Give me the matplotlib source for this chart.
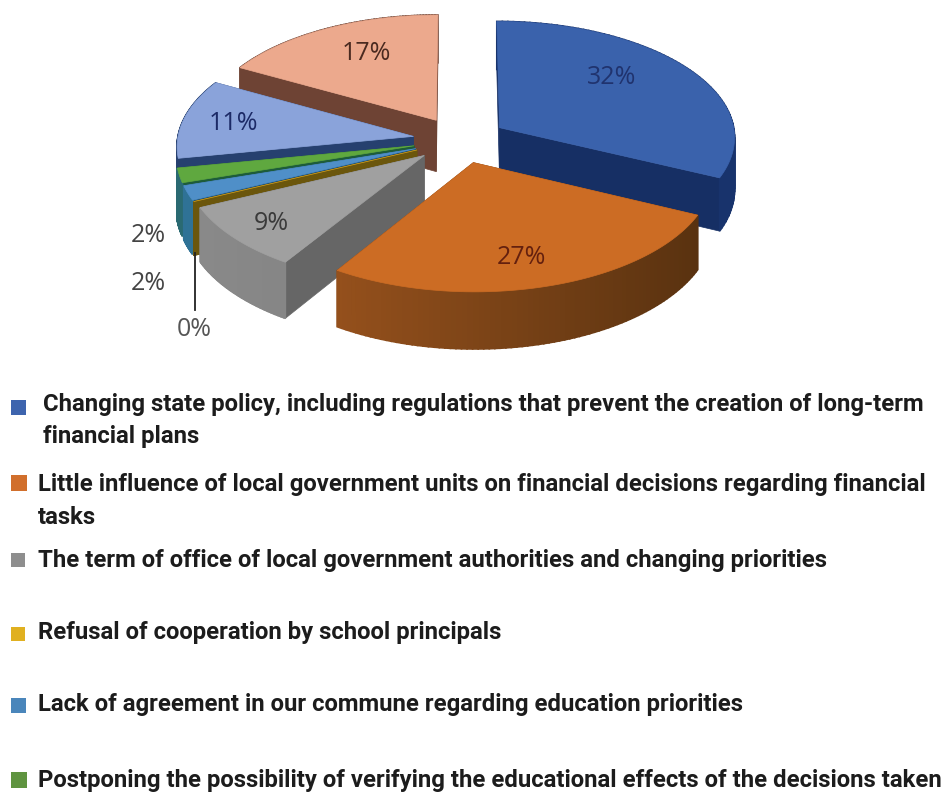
import numpy as np
from matplotlib import pyplot as plt
from matplotlib.colors import to_rgb

values = [32, 27, 9, 0, 2, 2, 11, 17]
top_colors = ['#3a62ac', '#cc6c24', '#a0a0a0', '#d9a520', '#4f8fc8', '#5fa83f', '#8aa3da', '#eca98d']
side_colors = ['#162f64', '#6f3a12', '#666666', '#6b560c', '#1f4f6f', '#1d5c3a', '#26406f', '#6e4334']
rim_left = ['#18336c', '#a85a20', '#8a8a8a', '#6b560c', '#2f7296', '#2a6a72', '#26406f', '#6e4334']
rim_right = ['#18336c', '#55300f', '#777777', '#6b560c', '#2f7296', '#2a6a72', '#26406f', '#6e4334']
draw_order = [7, 6, 5, 4, 3, 2, 0, 1]

label_pos = [(612, 78), (521, 257), (271, 223), (194, 330), (148, 283), (148, 236), (233, 123), (366, 53)]
label_colors = ['#20336e', '#64200e', '#3a3a3a', '#555555', '#444444', '#444444', '#1c2a66', '#4a2a20']

legend_text = [
    'Changing state policy, including regulations that prevent the creation of long-term\nfinancial plans',
    'Little influence of local government units on financial decisions regarding financial\ntasks',
    'The term of office of local government authorities and changing priorities',
    'Refusal of cooperation by school principals',
    'Lack of agreement in our commune regarding education priorities',
    'Postponing the possibility of verifying the educational effects of the decisions taken',
]
legend_colors = ['#3d64ae', '#d16f2c', '#8e8e8e', '#e0b020', '#4a86bb', '#5f9440']
legend_x = [43, 38, 38, 38, 38, 38]
legend_y = [421, 501, 561, 633, 705, 780]
legend_box = [(11, 400, 15), (11, 475, 16), (11, 553, 14), (11, 627, 14), (11, 698, 15), (11, 772, 16)]

# pie geometry in pixels
cx, cy = 460, 140
rx, ry = 236, 116
depth = 52
persp = 0.075
explode = 0.2


def project(X, Y, drop=0.0):
    w = 1 + persp * Y
    return cx + rx * X / w, cy - ry * Y / w + drop * depth / w


def blend(c1, c2, t):
    a, b = np.array(to_rgb(c1)), np.array(to_rgb(c2))
    return tuple(a + (b - a) * t)


fig = plt.figure(figsize=(9.49, 7.94), dpi=100)
ax = fig.add_axes([0, 0, 1, 1])
ax.set_xlim(0, 949)
ax.set_ylim(794, 0)
ax.axis('off')

edges = np.radians(np.concatenate([[0], np.cumsum(values)]) * 3.6)

for i in draw_order:
    t0, t1 = edges[i], edges[i + 1]
    mid = (t0 + t1) / 2
    ox, oy = explode * np.sin(mid), explode * np.cos(mid)
    th = np.linspace(t0, t1, 80)
    X = ox + np.sin(th)
    Y = oy + np.cos(th)

    # radial walls, the one nearer the viewer goes on last
    walls = sorted([t0, t1], key=lambda t: -np.cos(t))
    for t in walls:
        wx = np.array([ox, ox + np.sin(t)])
        wy = np.array([oy, oy + np.cos(t)])
        xa, ya = project(wx, wy)
        xb, yb = project(wx, wy, 1)
        ax.fill(np.r_[xa, xb[::-1]], np.r_[ya, yb[::-1]], color=side_colors[i], lw=0.5)

    # outer wall as short strips so the shade can change along the arc
    xa, ya = project(X, Y)
    xb, yb = project(X, Y, 1)
    for k in range(len(th) - 1):
        shade = blend(rim_left[i], rim_right[i], (np.sin(th[k]) + 1) / 2)
        ax.fill([xa[k], xa[k + 1], xb[k + 1], xb[k]], [ya[k], ya[k + 1], yb[k + 1], yb[k]],
                color=shade, lw=1.2)

    px, py = project(np.r_[ox, X], np.r_[oy, Y])
    ax.fill(px, py, color=top_colors[i], lw=0.5)

# leader line for the 0% slice
ax.plot([195, 195], [253, 310], color='#222222', lw=1.3)

for v, pos, col in zip(values, label_pos, label_colors):
    ax.text(pos[0], pos[1], f'{v}%', ha='center', va='center', fontsize=18,
            family='Open Sans', color=col)

for txt, col, x, y, box in zip(legend_text, legend_colors, legend_x, legend_y, legend_box):
    ax.add_patch(plt.Rectangle((box[0], box[1]), box[2], box[2], color=col, lw=0))
    ax.text(x, y, txt, ha='left', va='center', fontsize=17.2,
            family='Roboto', fontweight='bold', color='#1c1c1c', linespacing=1.5)

fig.savefig('out.png', dpi=100)
